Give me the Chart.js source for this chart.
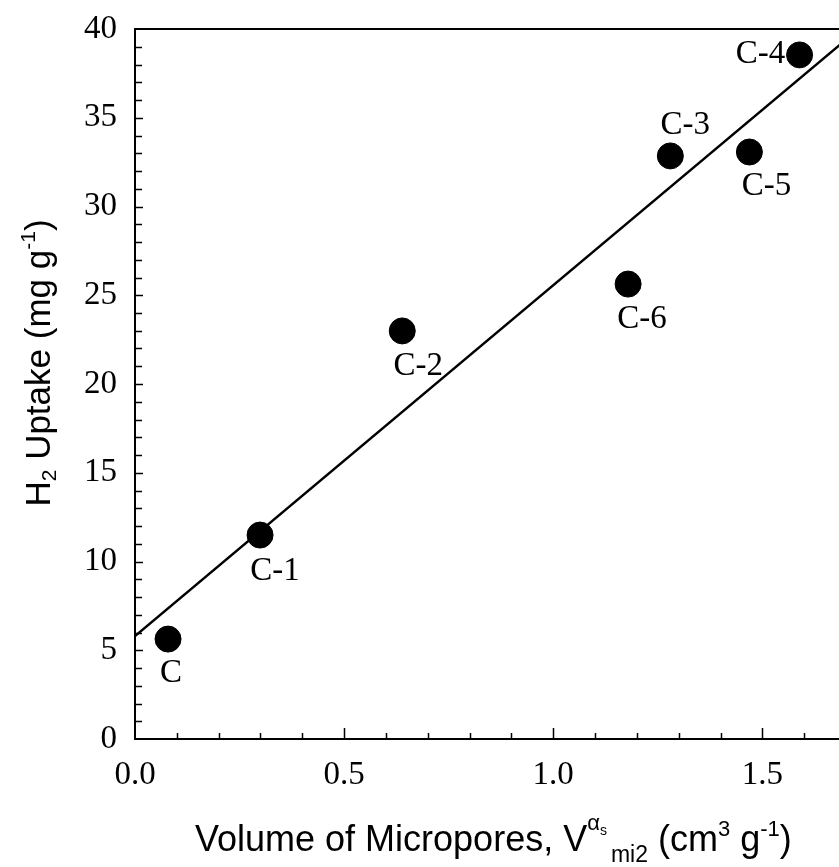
<!DOCTYPE html>
<html>
<head>
<meta charset="utf-8">
<script src="https://cdn.jsdelivr.net/npm/chart.js@4/dist/chart.umd.min.js"></script>
<style>
  html, body { margin: 0; padding: 0; background: #fff; overflow: hidden; }
  #wrap { width: 850px; height: 867px; position: relative; }
</style>
</head>
<body>
<div id="wrap">
  <canvas id="myChart"></canvas>
</div>

<script>
// sample names and measured values
var samples   = ['C', 'C-1', 'C-2', 'C-6', 'C-3', 'C-5', 'C-4'];
var microVol  = [0.079, 0.299, 0.639, 1.179, 1.280, 1.469, 1.589];   // cm3/g
var h2Uptake  = [5.63, 11.49, 22.99, 25.63, 32.85, 33.07, 38.54];    // mg/g

// least squares line, end points
var fitX = [0.0, 1.7];
var fitY = [5.8, 39.4];

// where each sample name sits relative to its dot (px)
var labelOffsets = [[3, 32], [15, 34], [16, 33], [14, 33], [15, -33], [17, 32], [-39, -3]];

var serif = "'Liberation Serif', 'Times New Roman', serif";
var sans = "'Liberation Sans', Arial, sans-serif";

// draws a run of text pieces (with sub/superscripts) starting at x
function drawRich(ctx, pieces, x, y) {
  pieces.forEach(function (p) {
    ctx.font = p.size + 'px ' + sans;
    ctx.fillText(p.t, x, y + (p.dy || 0));
    x += ctx.measureText(p.t).width + (p.gap || 0);
  });
}
function richWidth(ctx, pieces) {
  var w = 0;
  pieces.forEach(function (p) {
    ctx.font = p.size + 'px ' + sans;
    w += ctx.measureText(p.t).width + (p.gap || 0);
  });
  return w;
}

var extras = {
  id: 'extras',
  afterDraw: function (chart) {
    var ctx = chart.ctx, a = chart.chartArea;
    var xs = chart.scales.x, ys = chart.scales.y;
    ctx.save();
    ctx.strokeStyle = '#000';
    ctx.fillStyle = '#000';

    // top frame line
    ctx.lineWidth = 2;
    ctx.beginPath();
    ctx.moveTo(a.left - 1, a.top);
    ctx.lineTo(a.right + 1, a.top);
    ctx.stroke();

    // inward ticks
    ctx.lineWidth = 1.5;
    ctx.beginPath();
    for (var i = 1; i <= Math.round(xs.max * 10); i++) {
      var px = Math.round(xs.getPixelForValue(i / 10)) + 0.5;
      var len = (i % 5 === 0) ? 11 : 6;
      ctx.moveTo(px, a.bottom);
      ctx.lineTo(px, a.bottom - len);
    }
    for (var j = 1; j < ys.max; j++) {
      var py = Math.round(ys.getPixelForValue(j)) + 0.5;
      var l2 = (j % 5 === 0) ? 8 : 7;
      ctx.moveTo(a.left, py);
      ctx.lineTo(a.left + l2, py);
    }
    ctx.stroke();

    // sample names
    ctx.font = '33px ' + serif;
    ctx.textAlign = 'center';
    ctx.textBaseline = 'alphabetic';
    samples.forEach(function (name, k) {
      var px = xs.getPixelForValue(microVol[k]);
      var py = ys.getPixelForValue(h2Uptake[k]);
      ctx.fillText(name, px + labelOffsets[k][0], py + labelOffsets[k][1] + 11);
    });

    // x axis title
    ctx.textAlign = 'left';
    var xTitle = [
      { t: 'Volume of Micropores, V', size: 36 },
      { t: '\u03b1', size: 22, dy: -21 },
      { t: 's', size: 14, dy: -16, gap: 4 },
      { t: 'mi2', size: 23, dy: 11 },
      { t: ' (cm', size: 36 },
      { t: '3', size: 22, dy: -15 },
      { t: ' g', size: 36 },
      { t: '-1', size: 22, dy: -15 },
      { t: ')', size: 36 }
    ];
    drawRich(ctx, xTitle, 195, 851);

    // y axis title, rotated
    var yTitle = [
      { t: 'H', size: 35 },
      { t: '2', size: 21, dy: 6 },
      { t: ' Uptake (mg g', size: 35 },
      { t: '-1', size: 21, dy: -15 },
      { t: ')', size: 35 }
    ];
    ctx.translate(50, 363);
    ctx.rotate(-Math.PI / 2);
    drawRich(ctx, yTitle, -richWidth(ctx, yTitle) / 2, 0);
    ctx.restore();
  }
};

var ctx = document.getElementById('myChart');
new Chart(ctx, {
  type: 'scatter',
  data: {
    datasets: [
      {
        label: 'fit',
        type: 'line',
        data: fitX.map(function (x, i) { return { x: x, y: fitY[i] }; }),
        borderColor: '#000',
        borderWidth: 2.5,
        pointRadius: 0,
        fill: false,
        order: 2
      },
      {
        label: 'H2 uptake',
        data: microVol.map(function (x, i) { return { x: x, y: h2Uptake[i] }; }),
        backgroundColor: '#000',
        borderColor: '#000',
        borderWidth: 1,
        pointRadius: 13,
        order: 1
      }
    ]
  },
  options: {
    responsive: true,
    maintainAspectRatio: false,
    animation: false,
    layout: { autoPadding: false, padding: { left: 0, top: 29, right: 4, bottom: 0 } },
    plugins: { legend: { display: false }, tooltip: { enabled: false } },
    scales: {
      x: {
        type: 'linear',
        min: 0, max: 1.7,
        grid: { display: false, drawTicks: false },
        border: { display: true, color: '#000', width: 2 },
        ticks: {
          stepSize: 0.5,
          includeBounds: false,
          padding: 17,
          color: '#000',
          font: { family: serif, size: 33 },
          callback: function (v) { return v.toFixed(1); }
        },
        afterFit: function (s) { s.height = 128; s.paddingLeft = 0; s.paddingRight = 0; }
      },
      y: {
        min: 0, max: 40,
        grid: { display: false, drawTicks: false },
        border: { display: true, color: '#000', width: 2 },
        ticks: {
          stepSize: 5,
          padding: 18,
          color: '#000',
          font: { family: serif, size: 33 }
        },
        afterFit: function (s) { s.width = 135; s.paddingTop = 0; s.paddingBottom = 0; }
      }
    }
  },
  plugins: [extras]
});
</script>
</body>
</html>
